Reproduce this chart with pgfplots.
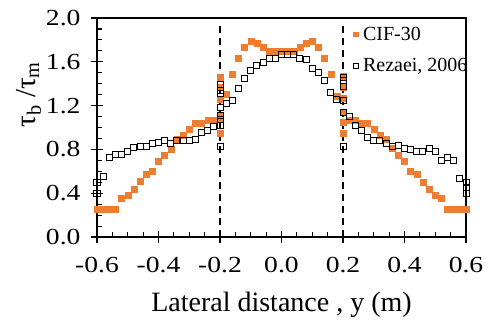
\documentclass[border=0pt]{standalone}
\usepackage{fontspec}
\setmainfont{Liberation Serif}
\newfontfamily\tickfont{Liberation Serif}[FakeStretch=1.2]
\usepackage{pgfplots}
\pgfplotsset{compat=1.18}
\definecolor{cif}{RGB}{237,125,49}
\begin{document}
\begin{tikzpicture}
\begin{axis}[
  scale only axis, width=369pt, height=219pt,
  xmin=-0.6, xmax=0.6, ymin=0, ymax=2,
  xtick={-0.6,-0.4,-0.2,0,0.2,0.4,0.6},
  xticklabels={-0.6,-0.4,-0.2,0.0,0.2,0.4,0.6},
  ytick={0,0.4,0.8,1.2,1.6,2.0},
  yticklabels={0.0,0.4,0.8,1.2,1.6,2.0},
  minor x tick num=3, minor y tick num=3,
  xtick pos=bottom, ytick pos=left,
  tick align=inside,
  major tick length=12pt, minor tick length=5pt,
  every major x tick/.append style={yshift=-6pt},
  every major y tick/.append style={xshift=-6pt},
  tick style={black, line width=1.1pt},
  axis line style={black, line width=1.4pt},
  ticklabel style={font=\tickfont\fontsize{23}{27}\selectfont},
  xticklabel style={yshift=-17pt},
  yticklabel style={xshift=-13pt},
  legend style={at={(rel axis cs:0.695,0.97)}, anchor=north west, draw=none, fill=none,
    font=\fontsize{20}{23}\selectfont, row sep=13pt, column sep=3pt, inner sep=0pt},
  legend cell align=left,
  legend image code/.code={\draw[#1,mark size=2.2pt] plot coordinates {(3pt,0pt)};},
  clip=false,
]
\draw[black, line width=1.5pt, dash pattern=on 7pt off 5pt] (axis cs:-0.2,0) -- (axis cs:-0.2,1.95);
\draw[black, line width=1.5pt, dash pattern=on 7pt off 5pt] (axis cs:0.2,0) -- (axis cs:0.2,1.95);
\addplot[only marks, mark=square*, mark size=3pt, color=cif, mark options={fill=cif, draw=cif}] coordinates {
(-0.600,0.25) (-0.590,0.25) (-0.580,0.25) (-0.570,0.25) (-0.560,0.25) (-0.550,0.25) (-0.540,0.25)
(-0.520,0.35) (-0.500,0.38) (-0.480,0.44) (-0.460,0.51) (-0.440,0.57) (-0.420,0.60)
(-0.400,0.69) (-0.380,0.75) (-0.360,0.80) (-0.340,0.89) (-0.320,0.93) (-0.300,0.985)
(-0.280,1.04) (-0.260,1.04) (-0.240,1.07) (-0.220,1.07)
(-0.200,0.95) (-0.200,1.08) (-0.200,1.10) (-0.200,1.26) (-0.200,1.37) (-0.200,1.46)
(-0.180,1.30) (-0.160,1.49) (-0.140,1.63) (-0.120,1.73) (-0.100,1.79) (-0.080,1.77)
(-0.060,1.73) (-0.040,1.70) (-0.020,1.70) (0.000,1.70) (0.020,1.70) (0.040,1.70)
(0.060,1.73) (0.080,1.77) (0.100,1.79) (0.120,1.73) (0.140,1.63) (0.160,1.49) (0.180,1.29)
(0.200,0.95) (0.200,1.05) (0.200,1.14) (0.200,1.27) (0.200,1.37) (0.200,1.47)
(0.220,1.07) (0.240,1.07) (0.260,1.04) (0.280,1.04) (0.300,0.985) (0.320,0.93)
(0.340,0.89) (0.360,0.81) (0.380,0.75) (0.400,0.69) (0.420,0.60) (0.440,0.57)
(0.460,0.50) (0.480,0.44) (0.500,0.38) (0.520,0.35)
(0.540,0.25) (0.550,0.25) (0.560,0.25) (0.570,0.25) (0.580,0.25) (0.590,0.25) (0.600,0.25)
};
\addlegendentry{CIF-30}
\addplot[only marks, mark=square, mark size=3pt, color=black, mark options={line width=1pt}] coordinates {
(-0.600,0.40) (-0.600,0.50) (-0.580,0.55) (-0.560,0.73) (-0.540,0.75) (-0.520,0.75)
(-0.500,0.78) (-0.480,0.82) (-0.460,0.83) (-0.440,0.83) (-0.420,0.85) (-0.400,0.86)
(-0.380,0.88) (-0.360,0.85) (-0.340,0.88) (-0.320,0.88) (-0.300,0.88) (-0.280,0.89)
(-0.260,0.95) (-0.240,0.97) (-0.220,1.01)
(-0.200,0.83) (-0.200,1.02) (-0.200,1.07) (-0.200,1.11) (-0.200,1.18) (-0.200,1.31) (-0.200,1.34) (-0.200,1.39)
(-0.180,1.22) (-0.160,1.25) (-0.140,1.36) (-0.120,1.45) (-0.100,1.52) (-0.080,1.57)
(-0.060,1.59) (-0.040,1.63) (-0.020,1.63) (0.000,1.67) (0.020,1.67) (0.040,1.67)
(0.060,1.63) (0.080,1.62) (0.100,1.54) (0.120,1.50) (0.140,1.43) (0.160,1.32) (0.180,1.26)
(0.200,0.83) (0.200,1.14) (0.200,1.25) (0.200,1.37) (0.200,1.43) (0.200,1.46)
(0.220,1.10) (0.240,1.02) (0.260,0.975) (0.280,0.91) (0.300,0.88) (0.320,0.88)
(0.340,0.85) (0.360,0.83) (0.380,0.84) (0.400,0.81) (0.420,0.80) (0.440,0.78)
(0.460,0.78) (0.480,0.81) (0.500,0.78) (0.520,0.70) (0.540,0.73) (0.560,0.70)
(0.580,0.53) (0.600,0.50) (0.600,0.45) (0.600,0.40)
};
\addlegendentry{Rezaei, 2006}
\node[rotate=90, font=\fontsize{29}{33}\selectfont] at (axis description cs:-0.185,0.65) {τ\textsubscript{b} /τ\textsubscript{m}};
\node[anchor=base, font=\fontsize{28}{32}\selectfont] at (axis description cs:0.5,-0.34) {Lateral distance , y (m)};
\coordinate (O) at (rel axis cs:0,0);
\end{axis}
\pgfresetboundingbox
\useasboundingbox (O) ++(-97pt,-85pt) rectangle ++(489pt,322pt);
\end{tikzpicture}
\end{document}
